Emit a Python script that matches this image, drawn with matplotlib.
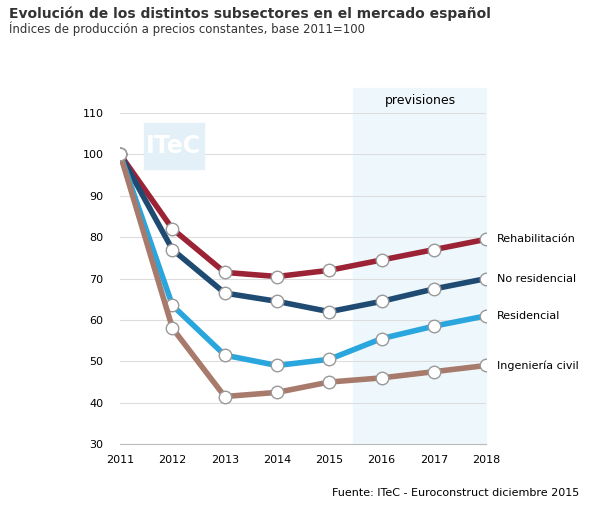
import matplotlib.pyplot as plt
from matplotlib.patches import Rectangle

years = [2011, 2012, 2013, 2014, 2015, 2016, 2017, 2018]
rehabilitacion = [100, 82, 71.5, 70.5, 72, 74.5, 77, 79.5]
no_residencial = [100, 77, 66.5, 64.5, 62, 64.5, 67.5, 70]
residencial = [100, 63.5, 51.5, 49, 50.5, 55.5, 58.5, 61]
ingenieria = [100, 58, 41.5, 42.5, 45, 46, 47.5, 49]
labels = ["Rehabilitación", "No residencial", "Residencial", "Ingeniería civil"]
colors = ["#9b2335", "#1f4a72", "#2aa6df", "#a87a6c"]

fig = plt.figure(figsize=(6.07, 5.14), dpi=100)
ax = fig.add_axes([0.198, 0.136, 0.603, 0.644])

# forecast shading
ax.axvspan(2015.45, 2018.0, ymin=0, ymax=1.075, color="#eef8fc", clip_on=False, zorder=0)
ax.text(2016.75, 111.5, "previsiones", ha="center", va="bottom", fontsize=9)

# watermark
ax.add_patch(Rectangle((2011.45, 96.5), 1.15, 11, color="#e3f0f8", zorder=1))
ax.text(2012.02, 102, "ITeC", color="white", fontsize=17, fontweight="bold",
        ha="center", va="center", zorder=2)

for serie, label, c in zip([rehabilitacion, no_residencial, residencial, ingenieria], labels, colors):
    ax.plot(years, serie, color=c, linewidth=4, marker="o", markersize=9,
            markerfacecolor="white", markeredgecolor="#999999", zorder=3)
    ax.text(2018.2, serie[-1], label, va="center", fontsize=8)

ax.set_xlim(2011, 2018)
ax.set_ylim(30, 110)
ax.set_yticks(range(30, 111, 10))
ax.set_xticks(years)
ax.tick_params(labelsize=8, length=0)
ax.tick_params(axis="y", pad=12)
ax.tick_params(axis="x", pad=8)
ax.grid(axis="y", color="#dddddd", linewidth=0.8)
ax.set_axisbelow(True)
for s in ax.spines.values():
    s.set_visible(False)
ax.spines["bottom"].set_visible(True)
ax.spines["bottom"].set_color("#bbbbbb")

fig.text(0.015, 0.965, "Evolución de los distintos subsectores en el mercado español",
         fontsize=10, fontweight="bold", color="#333333")
fig.text(0.015, 0.935, "Índices de producción a precios constantes, base 2011=100",
         fontsize=8.5, color="#333333")
fig.text(0.955, 0.035, "Fuente: ITeC - Euroconstruct diciembre 2015", fontsize=8, ha="right")

plt.savefig("out.png")
